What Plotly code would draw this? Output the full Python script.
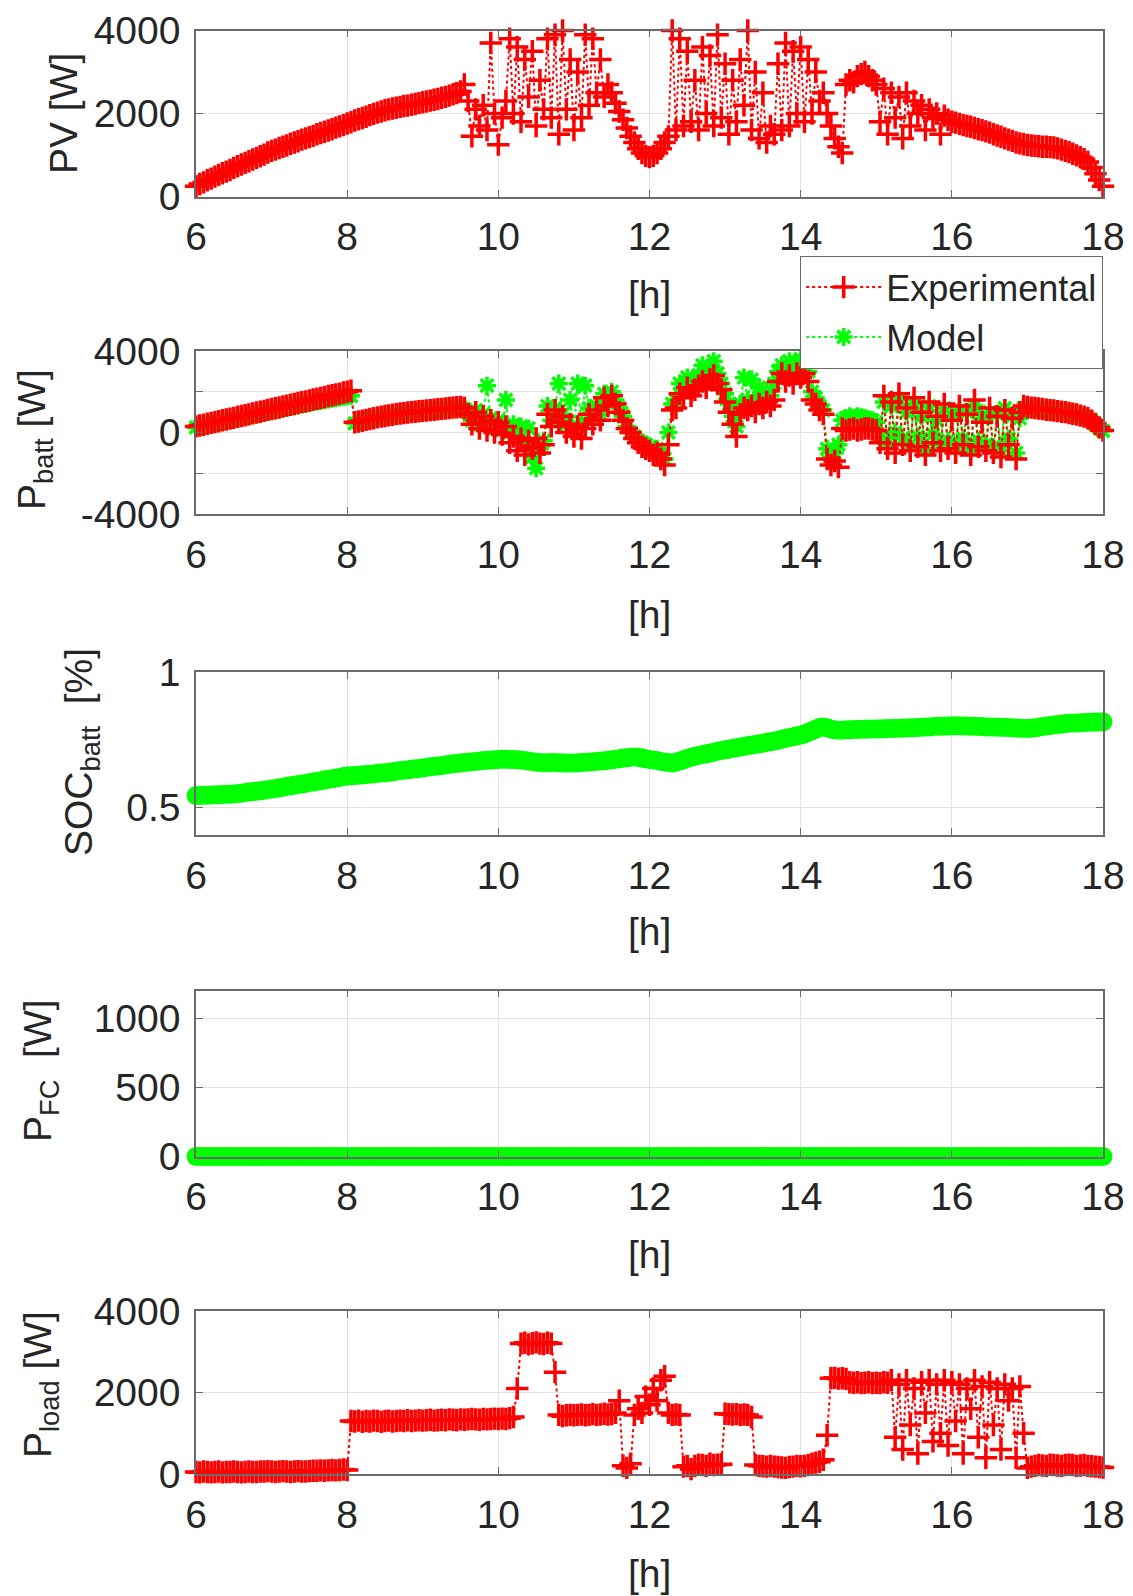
import plotly.graph_objects as go

# ---------------- data (sampled every 0.05 h from 6 h to 18 h) ----------------
hours = [round(6 + 0.05 * i, 2) for i in range(241)]
x_ticks = [6, 8, 10, 12, 14, 16, 18]

pv_exp = [
    250, 300, 340, 390, 430, 480, 520, 560, 600, 640, 690, 730, 770, 810, 850, 890, 930, 970, 1010, 1060,
    1100, 1130, 1170, 1200, 1230, 1270, 1300, 1330, 1370, 1400, 1430, 1460, 1500, 1530, 1560, 1590, 1620, 1660, 1690, 1720,
    1760, 1790, 1830, 1860, 1890, 1920, 1960, 1990, 2020, 2050, 2080, 2100, 2120, 2140, 2160, 2180, 2190, 2210, 2230, 2250,
    2270, 2290, 2310, 2330, 2350, 2380, 2400, 2430, 2460, 2490, 2530, 2700, 2300, 1450, 2100, 1700, 2200, 1600, 3700, 2000,
    1250, 1900, 2300, 3800, 2000, 3600, 1800, 3300, 2400, 3500, 1700, 2800, 2100, 3800, 1900, 3900, 1500, 4000, 2100, 3300,
    1600, 3000, 1900, 3900, 2200, 3800, 2500, 3300, 2400, 2700, 2500, 2250, 2050, 1850, 1650, 1450, 1300, 1150, 1050, 980,
    950, 980, 1050, 1150, 1300, 1450, 4000, 1600, 3800, 1700, 3500, 1800, 2800, 1600, 3600, 2000, 3400, 1700, 3900, 1900,
    3200, 1500, 2800, 1800, 3300, 2200, 4000, 1600, 3000, 1400, 2500, 1300, 1700, 1500, 3200, 1600, 3700, 1700, 3500, 2000,
    3600, 1800, 3300, 2000, 3000, 2300, 2500, 2000, 1700, 1400, 1200, 1050, 2700, 2800, 2750, 2900, 2950, 3000, 2900, 2800,
    2700, 1800, 2600, 1500, 2500, 1900, 2400, 1400, 2500, 1700, 2300, 2000, 2200, 1600, 2100, 1900, 2000, 1500, 1950, 1850,
    1800, 1780, 1750, 1720, 1700, 1680, 1650, 1620, 1600, 1570, 1540, 1500, 1470, 1440, 1400, 1370, 1340, 1300, 1280, 1260,
    1240, 1230, 1220, 1210, 1200, 1200, 1190, 1180, 1160, 1130, 1100, 1070, 1030, 990, 950, 900, 830, 700, 550, 400,
    250,
]

batt_exp = [
    300, 340, 380, 430, 470, 510, 550, 600, 640, 680, 720, 770, 810, 850, 890, 940, 980, 1020, 1060, 1110,
    1150, 1190, 1230, 1280, 1320, 1360, 1400, 1450, 1490, 1530, 1570, 1620, 1660, 1700, 1740, 1790, 1830, 1870, 1910, 1960,
    2000, 2050, 500, 540, 580, 620, 660, 700, 740, 780, 810, 840, 870, 900, 930, 950, 980, 1000, 1020, 1040,
    1060, 1080, 1100, 1120, 1140, 1160, 1180, 1200, 1220, 1240, 1250, 1200, 900, 400, 1000, 200, 800, 100, 600, 0,
    500, -100, 300, -500, -200, -900, -300, -1100, -400, -800, -300, -1000, -600, 900, 300, 1100, 500, 800, 0, 400,
    -200, 300, -300, 200, 900, 400, 1100, 600, 1700, 1300, 1800, 1400, 1000, 600, 200, 0, -300, -500, -700, -800,
    -900, -1100, -1000, -1300, -1600, -600, 1100, 1200, 1900, 1700, 2200, 1800, 2100, 2300, 2500, 2200, 2600, 2800, 2400, 2100,
    1500, 1000, 400, -200, 900, 1200, 1100, 1300, 1000, 1400, 1200, 1500, 1300, 1600, 2500, 2900, 2500, 2800, 2400, 2900,
    2700, 2900, 2500, 1600, 1400, 1100, 900, -1300, -1600, -1400, -1700, 200, 100, 150, 200, 100, 150, 200, 200, 150,
    100, -500, 1800, -800, 1500, -1000, 1900, -600, 1200, -900, 1700, -700, 1000, -1100, 1500, -500, 800, -900, 1400, -800,
    600, -1000, 1300, -600, 900, -1100, 1600, -700, 500, -900, 1200, -1000, 800, -1200, 1100, -600, 700, -1300, 1000, 1300,
    1250, 1220, 1200, 1180, 1150, 1120, 1100, 1080, 1050, 1020, 1000, 960, 920, 880, 830, 780, 700, 580, 420, 250,
    100,
]

batt_model = [
    250, 290, 330, 370, 410, 450, 490, 530, 570, 610, 650, 690, 730, 770, 810, 850, 890, 930, 970, 1010,
    1050, 1090, 1130, 1170, 1210, 1250, 1290, 1330, 1370, 1410, 1450, 1490, 1520, 1550, 1590, 1620, 1660, 1690, 1720, 1760,
    1780, 1800, 450, 500, 540, 580, 620, 660, 700, 740, 770, 800, 830, 860, 890, 910, 940, 960, 980, 1000,
    1020, 1040, 1060, 1080, 1100, 1120, 1140, 1160, 1180, 1200, 1220, 1150, 1000, 600, 1100, 400, 900, 2300, 700, 200,
    600, 100, 1600, 0, 400, -200, 300, -500, 200, -1200, -1750, -800, -400, 1300, 600, 1200, 2400, 900, 400, 1600,
    100, 2400, 500, 2300, 1200, 700, 1300, 900, 1900, 1500, 2000, 1600, 1200, 800, 300, 0, -200, -400, -500, -600,
    -700, -900, -800, -1100, -1300, 0, 1400, 1600, 2400, 2000, 2700, 2200, 2500, 2800, 3300, 2600, 3000, 3500, 2900, 2400,
    1900, 1400, 800, 300, 1400, 2700, 1600, 2600, 1500, 2200, 1700, 2000, 1800, 2400, 3000, 3300, 3000, 3500, 2900, 3400,
    3600, 3300, 3000, 2000, 1700, 1300, 1100, -800, -1200, -1000, -600, 600, 700, 800, 700, 800, 750, 700, 650, 600,
    500, -200, 1500, -500, 1300, 0, 1600, -300, 1000, -600, 1400, -200, 800, -800, 1300, -100, 600, -600, 1200, -400,
    800, -700, 1100, -300, 1000, -800, 1300, -400, 700, -600, 1000, -700, 900, -900, 1200, -300, 800, -1000, 700, 1200,
    1200, 1180, 1160, 1140, 1110, 1090, 1060, 1040, 1010, 980, 960, 920, 880, 840, 800, 750, 680, 560, 400, 230,
    80,
]

soc_model = [
    0.545, 0.545, 0.546, 0.546, 0.547, 0.548, 0.548, 0.549, 0.550, 0.550, 0.551, 0.553, 0.554, 0.556, 0.558, 0.560, 0.561, 0.563, 0.565, 0.567,
    0.569, 0.571, 0.574, 0.576, 0.579, 0.581, 0.583, 0.586, 0.588, 0.590, 0.593, 0.595, 0.598, 0.600, 0.603, 0.605, 0.607, 0.610, 0.612, 0.615,
    0.617, 0.618, 0.619, 0.620, 0.622, 0.623, 0.624, 0.625, 0.627, 0.628, 0.629, 0.631, 0.633, 0.635, 0.637, 0.638, 0.640, 0.642, 0.644, 0.645,
    0.647, 0.649, 0.651, 0.653, 0.654, 0.656, 0.658, 0.660, 0.662, 0.664, 0.665, 0.667, 0.668, 0.670, 0.671, 0.672, 0.674, 0.675, 0.676, 0.677,
    0.678, 0.679, 0.679, 0.678, 0.678, 0.677, 0.676, 0.674, 0.672, 0.670, 0.668, 0.667, 0.666, 0.666, 0.667, 0.667, 0.666, 0.666, 0.665, 0.665,
    0.665, 0.666, 0.667, 0.668, 0.669, 0.670, 0.671, 0.672, 0.673, 0.675, 0.677, 0.679, 0.681, 0.683, 0.684, 0.686, 0.687, 0.686, 0.684, 0.681,
    0.678, 0.676, 0.674, 0.671, 0.669, 0.667, 0.665, 0.668, 0.672, 0.677, 0.682, 0.686, 0.690, 0.693, 0.696, 0.699, 0.702, 0.705, 0.708, 0.711,
    0.714, 0.716, 0.719, 0.721, 0.724, 0.726, 0.729, 0.731, 0.733, 0.736, 0.738, 0.741, 0.743, 0.746, 0.749, 0.752, 0.756, 0.759, 0.762, 0.765,
    0.768, 0.772, 0.778, 0.784, 0.790, 0.796, 0.798, 0.795, 0.790, 0.787, 0.786, 0.786, 0.787, 0.787, 0.788, 0.788, 0.789, 0.789, 0.790, 0.790,
    0.790, 0.791, 0.791, 0.792, 0.792, 0.793, 0.793, 0.794, 0.794, 0.795, 0.795, 0.796, 0.797, 0.798, 0.798, 0.799, 0.800, 0.800, 0.801, 0.801,
    0.802, 0.802, 0.802, 0.801, 0.801, 0.800, 0.800, 0.799, 0.799, 0.798, 0.798, 0.798, 0.797, 0.797, 0.796, 0.796, 0.795, 0.794, 0.793, 0.793,
    0.792, 0.793, 0.795, 0.797, 0.799, 0.801, 0.803, 0.805, 0.807, 0.808, 0.810, 0.811, 0.812, 0.812, 0.813, 0.814, 0.815, 0.815, 0.816, 0.816,
    0.817,
]

fc_model = [
    0, 0, 0, 0, 0, 0, 0, 0, 0, 0, 0, 0, 0, 0, 0, 0, 0, 0, 0, 0,
    0, 0, 0, 0, 0, 0, 0, 0, 0, 0, 0, 0, 0, 0, 0, 0, 0, 0, 0, 0,
    0, 0, 0, 0, 0, 0, 0, 0, 0, 0, 0, 0, 0, 0, 0, 0, 0, 0, 0, 0,
    0, 0, 0, 0, 0, 0, 0, 0, 0, 0, 0, 0, 0, 0, 0, 0, 0, 0, 0, 0,
    0, 0, 0, 0, 0, 0, 0, 0, 0, 0, 0, 0, 0, 0, 0, 0, 0, 0, 0, 0,
    0, 0, 0, 0, 0, 0, 0, 0, 0, 0, 0, 0, 0, 0, 0, 0, 0, 0, 0, 0,
    0, 0, 0, 0, 0, 0, 0, 0, 0, 0, 0, 0, 0, 0, 0, 0, 0, 0, 0, 0,
    0, 0, 0, 0, 0, 0, 0, 0, 0, 0, 0, 0, 0, 0, 0, 0, 0, 0, 0, 0,
    0, 0, 0, 0, 0, 0, 0, 0, 0, 0, 0, 0, 0, 0, 0, 0, 0, 0, 0, 0,
    0, 0, 0, 0, 0, 0, 0, 0, 0, 0, 0, 0, 0, 0, 0, 0, 0, 0, 0, 0,
    0, 0, 0, 0, 0, 0, 0, 0, 0, 0, 0, 0, 0, 0, 0, 0, 0, 0, 0, 0,
    0, 0, 0, 0, 0, 0, 0, 0, 0, 0, 0, 0, 0, 0, 0, 0, 0, 0, 0, 0,
    0,
]

load_exp = [
    50, 40, 60, 50, 40, 50, 60, 40, 50, 50, 60, 50, 40, 50, 60, 50, 50, 60, 60, 70,
    60, 50, 60, 70, 60, 50, 60, 70, 60, 60, 70, 80, 80, 90, 80, 90, 100, 90, 100, 110,
    100, 1300, 1290, 1310, 1280, 1300, 1290, 1310, 1300, 1280, 1300, 1310, 1290, 1300, 1310, 1300, 1320, 1300, 1310, 1320,
    1310, 1320, 1330, 1310, 1320, 1330, 1320, 1340, 1330, 1320, 1340, 1330, 1340, 1350, 1340, 1330, 1350, 1340, 1350, 1360,
    1350, 1360, 1350, 1370, 1400, 2100, 3200, 3220, 3180, 3210, 3230, 3200, 3190, 3220, 3200, 2500, 1450, 1420, 1440, 1450,
    1440, 1450, 1460, 1440, 1450, 1470, 1450, 1460, 1480, 1460, 1470, 1500, 1800, 200, 150, 250, 1450, 1600, 1500, 1900,
    1700, 2100, 1800, 2300, 2400, 1500, 1450, 1460, 1450, 180, 200, 120, 200, 230, 220, 200, 250, 220, 230, 240,
    1480, 1470, 1460, 1470, 1450, 1460, 1450, 1400, 220, 200, 190, 180, 200, 180, 170, 160, 150, 170, 180, 200,
    190, 200, 220, 250, 280, 300, 350, 950, 2350, 2360, 2340, 2350, 2330, 2250, 2240, 2250, 2230, 2240, 2250, 2230,
    2240, 2230, 2250, 2240, 2300, 900, 2200, 600, 2300, 1200, 2100, 500, 2250, 1500, 2300, 800, 2200, 1000, 2300, 700,
    2250, 1300, 2200, 500, 2100, 1600, 2300, 900, 2150, 400, 2250, 1200, 2100, 600, 2200, 1800, 2100, 400, 2150, 1000,
    150, 180, 200, 220, 210, 200, 230, 220, 210, 200, 220, 230, 220, 200, 210, 220, 200, 190, 180, 170,
    160,
]

# ---------------- styling ----------------
RED = "#ff0000"
GREEN = "#00ff00"
FONT = "Liberation Sans, Arial, sans-serif"
TXT = "#262626"
OFF = 8.0            # the page body adds an 8 px margin around the figure
W = 1133.0 - OFF
H = 1596.0 - OFF


def px(xp):
    return (xp - OFF) / W


def py(yp):
    return 1 - (yp - OFF) / H


x_dom = [px(196), px(1103)]
panels = [  # (top px, bottom px) in page coordinates
    (30.5, 196.5),
    (351, 514),
    (672, 835),
    (990.5, 1156.5),
    (1311, 1474),
]

fig = go.Figure()

exp_line = dict(color=RED, width=2, dash="dot")
exp_marker = dict(symbol="cross-thin", size=16, line=dict(color=RED, width=3.5), color=RED)
mod_line = dict(color=GREEN, width=2, dash="dot")
mod_marker = dict(symbol="asterisk-open", size=15, line=dict(color=GREEN, width=3.5), color=GREEN)

# panel 1: PV
fig.add_trace(go.Scatter(x=hours, y=pv_exp, mode="lines+markers", line=exp_line, marker=exp_marker,
                         xaxis="x", yaxis="y", showlegend=False, cliponaxis=False))
# panel 2: battery power (model below, experimental on top)
fig.add_trace(go.Scatter(x=hours, y=batt_model, mode="lines+markers", line=mod_line, marker=mod_marker,
                         xaxis="x2", yaxis="y2", name="Model", legendrank=2, cliponaxis=False))
fig.add_trace(go.Scatter(x=hours, y=batt_exp, mode="lines+markers", line=exp_line, marker=exp_marker,
                         xaxis="x2", yaxis="y2", name="Experimental", legendrank=1, cliponaxis=False))
# panel 3: SOC
fig.add_trace(go.Scatter(x=hours, y=soc_model, mode="lines+markers", line=dict(color=GREEN, width=3),
                         marker=dict(symbol="circle", size=19, color=GREEN),
                         xaxis="x3", yaxis="y3", showlegend=False, cliponaxis=False))
# panel 4: fuel cell
fig.add_trace(go.Scatter(x=hours, y=fc_model, mode="lines+markers", line=dict(color=GREEN, width=3),
                         marker=dict(symbol="circle", size=19, color=GREEN),
                         xaxis="x4", yaxis="y4", showlegend=False, cliponaxis=False))
# panel 5: load
fig.add_trace(go.Scatter(x=hours, y=load_exp, mode="lines+markers", line=exp_line, marker=exp_marker,
                         xaxis="x5", yaxis="y5", showlegend=False, cliponaxis=False))

y_specs = [
    dict(range=[0, 4000], tickvals=[0, 2000, 4000], ticktext=["0", "2000", "4000"]),
    dict(range=[-4000, 4000], tickvals=[-4000, -2000, 0, 2000, 4000], ticktext=["-4000", "", "0", "", "4000"]),
    dict(range=[0.4, 1.0], tickvals=[0.5, 1.0], ticktext=["0.5", "1"]),
    dict(range=[0, 1200], tickvals=[0, 500, 1000], ticktext=["0", "500", "1000"]),
    dict(range=[0, 4000], tickvals=[0, 2000, 4000], ticktext=["0", "2000", "4000"]),
]

common_axis = dict(
    showline=True, linecolor="#6b6b6b", linewidth=1.5, mirror="ticks",
    showgrid=True, gridcolor="#e3e3e3", gridwidth=1,
    ticks="inside", ticklen=7, tickcolor="#6b6b6b", tickwidth=1,
    tickfont=dict(family=FONT, size=39, color=TXT), zeroline=False,
    automargin=False,
)

layout = dict(
    width=int(W), height=int(H),
    margin=dict(l=0, r=0, t=0, b=0, autoexpand=False),
    paper_bgcolor="white", plot_bgcolor="white",
    font=dict(family=FONT, color=TXT),
    showlegend=True,
    legend=dict(x=px(1103), y=py(256), xanchor="right", yanchor="top",
                bgcolor="white", bordercolor="#6b6b6b", borderwidth=1.2,
                font=dict(family=FONT, size=36, color=TXT), tracegroupgap=0,
                itemwidth=75),
)

for i, (top, bot) in enumerate(panels):
    n = "" if i == 0 else str(i + 1)
    layout["xaxis" + n] = dict(common_axis, domain=x_dom, range=[6, 18], tickvals=x_ticks,
                               ticktext=[str(v) for v in x_ticks], anchor="y" + n,
                               ticklabelstandoff=5)
    layout["yaxis" + n] = dict(common_axis, domain=[py(bot), py(top)], anchor="x" + n,
                               ticklabelstandoff=6, **y_specs[i])

fig.update_layout(**layout)

# x-axis titles "[h]"
h_centers = [295, 614, 931, 1254, 1573]
for yc in h_centers:
    fig.add_annotation(text="[h]", x=px(649.5), y=py(yc), xref="paper", yref="paper",
                       showarrow=False, xanchor="center", yanchor="middle",
                       font=dict(family=FONT, size=39, color=TXT))

# y-axis titles
y_titles = [
    ("PV [W]", 64, 114),
    ("P<sub>batt</sub> [W]", 34, 440),
    ("SOC<sub>batt</sub> &nbsp;[%]", 81, 752),
    ("P<sub>FC</sub> &nbsp;[W]", 40, 1071),
    ("P<sub>load</sub> [W]", 40, 1385),
]
for txt, xc, yc in y_titles:
    fig.add_annotation(text=txt, x=px(xc), y=py(yc), xref="paper", yref="paper",
                       showarrow=False, textangle=-90, xanchor="center", yanchor="middle",
                       font=dict(family=FONT, size=39, color=TXT))

fig.write_html("out.html")
